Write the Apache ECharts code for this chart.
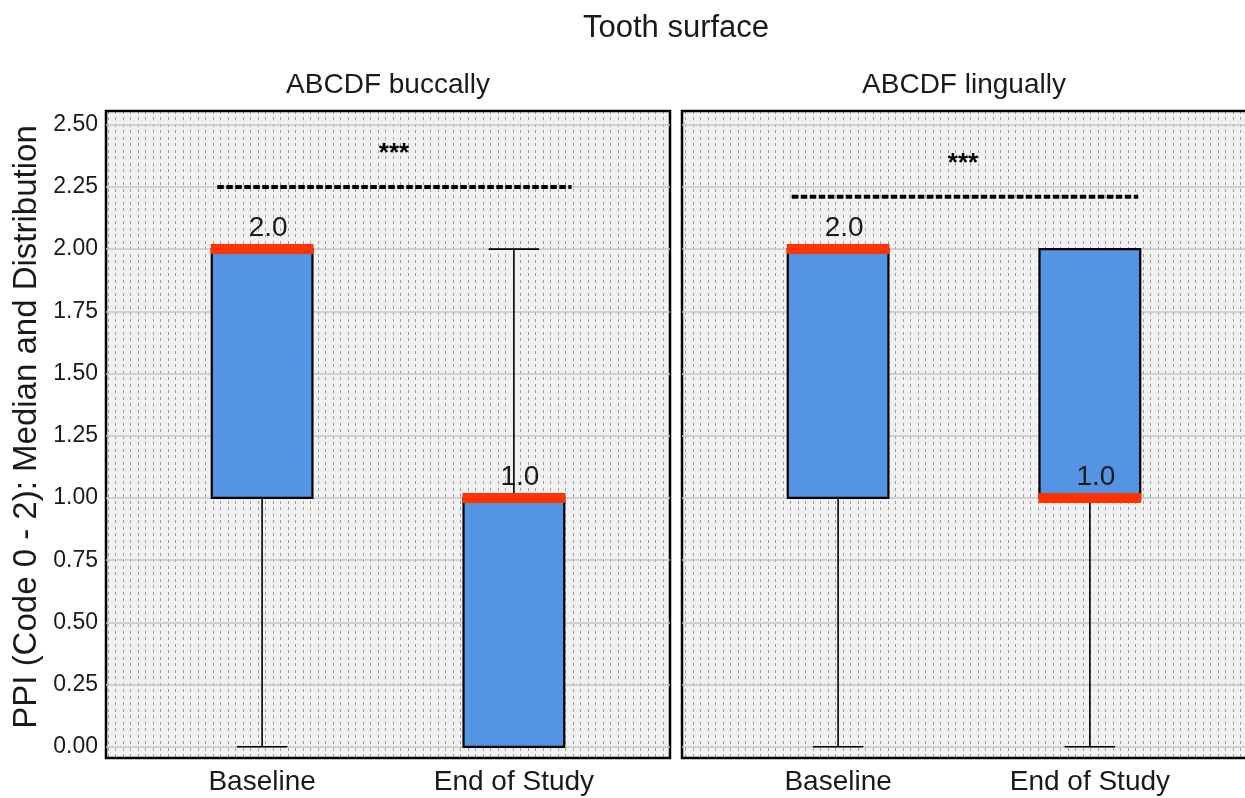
<!DOCTYPE html>
<html>
<head>
<meta charset="utf-8">
<script src="https://cdn.jsdelivr.net/npm/echarts@6/dist/echarts.min.js"></script>
<style>html,body{margin:0;padding:0;background:#fff;}#chart{width:1245px;height:798px;}</style>
</head>
<body>
<div id="chart"></div>
<script>
// ---- data ----
const categories = ['Baseline', 'End of Study'];
const panelTitles = ['ABCDF buccally', 'ABCDF lingually'];
const mainTitle = 'Tooth surface';
const yTitle = 'PPI (Code 0 - 2): Median and Distribution';
const yTickValues = [0, 0.25, 0.5, 0.75, 1, 1.25, 1.5, 1.75, 2, 2.25, 2.5];

const buccalMin = [0, 0];
const buccalQ1 = [1, 0];
const buccalMedian = [2, 1];
const buccalQ3 = [2, 1];
const buccalMax = [2, 2];
const buccalMedianLabels = ['2.0', '1.0'];

const lingualMin = [0, 0];
const lingualQ1 = [1, 1];
const lingualMedian = [2, 1];
const lingualQ3 = [2, 2];
const lingualMax = [2, 2];
const lingualMedianLabels = ['2.0', '1.0'];

// significance annotation: [x start, x end, line y, star x, star y]
const buccalSig = [0.822, 2.229, 2.25, 1.524, 2.41];
const lingualSig = [0.816, 2.192, 2.21, 1.496, 2.37];
const sigText = '***';

// ---- style ----
const FONT = '"Liberation Sans", Arial, Helvetica, sans-serif';
const TXT = '#1a1a1a';

const pc = document.createElement('canvas');
pc.width = 15; pc.height = 13;
const g = pc.getContext('2d');
g.fillStyle = '#f1f1f1'; g.fillRect(0, 0, 15, 13);
g.fillStyle = '#9c9c9c';
[3, 10].forEach(x => { g.fillRect(x, 0, 1, 3); g.fillRect(x, 7, 1, 3); });
const bgPattern = { image: pc, repeat: 'repeat' };

function boxData(mins, q1s, meds, q3s, maxs) {
  return categories.map((c, i) => [i + 1, mins[i], q1s[i], meds[i], q3s[i], maxs[i]]);
}

function makeBoxRender(labels) {
  return function (params, api) {
    const x = api.value(0);
    const lo = api.value(1), q1 = api.value(2), med = api.value(3), q3 = api.value(4), hi = api.value(5);
    const bw = 0.4, cw = 0.2;
    const tl = api.coord([x - bw / 2, q3]);
    const br = api.coord([x + bw / 2, q1]);
    const c = api.coord([x, med]);
    const pLo = api.coord([x, lo]), pHi = api.coord([x, hi]);
    const pQ1 = api.coord([x, q1]), pQ3 = api.coord([x, q3]);
    const capL = api.coord([x - cw / 2, lo])[0], capR = api.coord([x + cw / 2, lo])[0];
    const ln = (x1, y1, x2, y2, w, col) => ({ type: 'line', shape: { x1, y1, x2, y2 }, style: { stroke: col || '#000', lineWidth: w } });
    return {
      type: 'group',
      children: [
        { type: 'rect', shape: { x: tl[0], y: tl[1], width: br[0] - tl[0], height: br[1] - tl[1] },
          style: { fill: '#5394E3', stroke: '#000', lineWidth: 2.2 } },
        { type: 'text', x: c[0] + 6, y: c[1] - 21,
          style: { text: labels[params.dataIndex], font: '28px ' + FONT, fill: TXT, align: 'center', verticalAlign: 'middle' } },
        ln(pQ3[0], pQ3[1], pHi[0], pHi[1], 1.6),
        ln(pQ1[0], pQ1[1], pLo[0], pLo[1], 1.6),
        ln(capL, pHi[1], capR, pHi[1], 1.6),
        ln(capL, pLo[1], capR, pLo[1], 1.6),
        ln(tl[0] - 1, c[1], br[0] + 1, c[1], 10, '#FF3300')
      ]
    };
  };
}

function sigRender(params, api) {
  const a = api.coord([api.value(0), api.value(2)]);
  const b = api.coord([api.value(1), api.value(2)]);
  const s = api.coord([api.value(3), api.value(4)]);
  return {
    type: 'group',
    children: [
      { type: 'line', shape: { x1: a[0], y1: a[1], x2: b[0], y2: b[1] },
        style: { stroke: '#000', lineWidth: 4, lineDash: [6.5, 2.5] } },
      { type: 'text', x: s[0], y: s[1] + 7,
        style: { text: sigText, font: 'bold 26px ' + FONT, fill: '#000', align: 'center', verticalAlign: 'middle' } }
    ]
  };
}

const gridLefts = [106, 682];
const gridWidths = [564, 568];
const xMaxes = [2.62, 2.636];
const option = {
  animation: false,
  backgroundColor: '#ffffff',
  grid: gridLefts.map((l, i) => ({
    left: l, top: 111, width: gridWidths[i], height: 647, show: true,
    outerBoundsMode: 'none', containLabel: false,
    backgroundColor: bgPattern, borderColor: '#000', borderWidth: 2.5
  })),
  xAxis: gridLefts.map((l, i) => ({
    type: 'value', gridIndex: i, min: 0.38, max: xMaxes[i],
    axisLine: { show: false },
    axisTick: { show: false, customValues: [1, 2] },
    splitLine: { show: false },
    axisLabel: { customValues: [1, 2], formatter: v => categories[Math.round(v) - 1],
      fontSize: 28, fontFamily: FONT, color: TXT, margin: 10 }
  })),
  yAxis: gridLefts.map((l, i) => ({
    type: 'value', gridIndex: i, min: -0.045, max: 2.555,
    axisLine: { show: false },
    axisTick: { show: false, customValues: yTickValues },
    splitLine: { show: true, lineStyle: { color: '#c6c6c6', width: 1.5 } },
    axisLabel: { show: i === 0, customValues: yTickValues, formatter: v => v.toFixed(2),
      fontSize: 23, fontFamily: FONT, color: TXT, margin: 8 }
  })),
  series: [
    { type: 'custom', xAxisIndex: 0, yAxisIndex: 0, encode: { x: 0, y: [1, 2, 3, 4, 5] },
      data: boxData(buccalMin, buccalQ1, buccalMedian, buccalQ3, buccalMax),
      renderItem: makeBoxRender(buccalMedianLabels), z: 3 },
    { type: 'custom', xAxisIndex: 1, yAxisIndex: 1, encode: { x: 0, y: [1, 2, 3, 4, 5] },
      data: boxData(lingualMin, lingualQ1, lingualMedian, lingualQ3, lingualMax),
      renderItem: makeBoxRender(lingualMedianLabels), z: 3 },
    { type: 'custom', xAxisIndex: 0, yAxisIndex: 0, encode: { x: [0, 1, 3], y: [2, 4] },
      data: [buccalSig], renderItem: sigRender, z: 4 },
    { type: 'custom', xAxisIndex: 1, yAxisIndex: 1, encode: { x: [0, 1, 3], y: [2, 4] },
      data: [lingualSig], renderItem: sigRender, z: 4 }
  ],
  graphic: [
    { type: 'text', x: 676, y: 28, style: { text: mainTitle, font: '31px ' + FONT, fill: TXT, align: 'center', verticalAlign: 'middle' } },
    { type: 'text', x: 388, y: 85, style: { text: panelTitles[0], font: '28px ' + FONT, fill: TXT, align: 'center', verticalAlign: 'middle' } },
    { type: 'text', x: 964, y: 85, style: { text: panelTitles[1], font: '28px ' + FONT, fill: TXT, align: 'center', verticalAlign: 'middle' } },
    { type: 'text', x: 27, y: 427, rotation: Math.PI / 2,
      style: { text: yTitle, font: '33px ' + FONT, fill: TXT, align: 'center', verticalAlign: 'middle' } }
  ]
};

const chart = echarts.init(document.getElementById('chart'), null, { renderer: 'canvas' });
chart.setOption(option);
</script>
</body>
</html>
